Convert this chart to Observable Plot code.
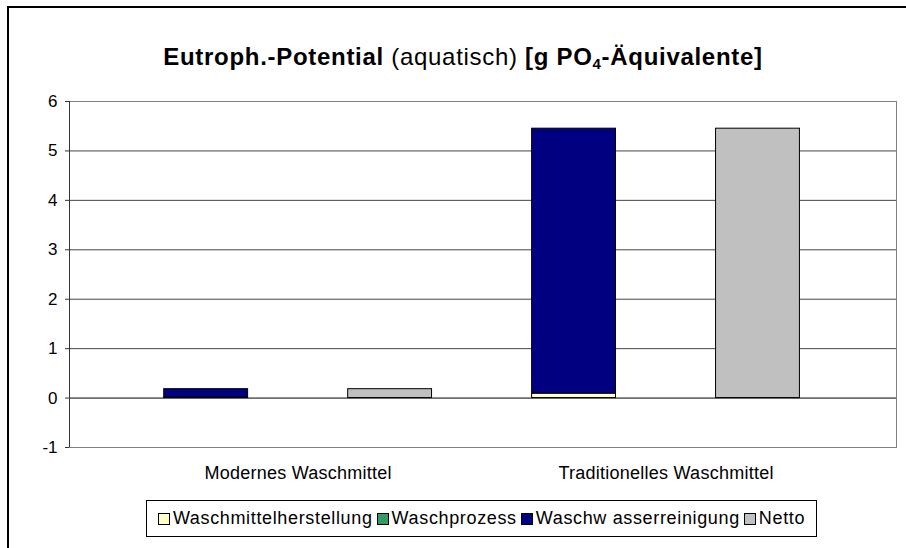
<!DOCTYPE html>
<html>
<head>
<meta charset="utf-8">
<script src="https://cdn.jsdelivr.net/npm/d3@7"></script>
<script src="https://cdn.jsdelivr.net/npm/@observablehq/plot@0.6"></script>
<style>
  html, body { margin: 0; padding: 0; width: 906px; height: 548px; overflow: hidden; background: #fff; }
  body { position: relative; font-family: "Liberation Sans", Arial, sans-serif; }
  #border { position: absolute; left: 7px; top: 6px; width: 1000px; height: 1000px; border: 2px solid #000; box-sizing: border-box; }
  #chart { position: absolute; left: 0; top: 0; }
  #title { position: absolute; left: 0; width: 926px; top: 43px; text-align: center; font-size: 24px; color: #000; white-space: nowrap; letter-spacing: 0.7px; }
  #title b { font-weight: bold; }
  #title sub { font-size: 15px; vertical-align: -4px; line-height: 0; }
  #legend { position: absolute; left: 146px; top: 500px; width: 671px; height: 37px; box-sizing: border-box; border: 1px solid #000; background: #fff;
            display: flex; align-items: center; justify-content: center; font-size: 18px; color: #000; white-space: nowrap; letter-spacing: 0.65px; }
  .item { display: inline-flex; align-items: center; margin: 0 2px; }
  .sw { display: inline-block; width: 10px; height: 10px; border: 1px solid #000; margin-right: 3px; }
  svg g[aria-label="x-axis tick label"] text { letter-spacing: 0.25px; }
</style>
</head>
<body>
<div id="border"></div>
<div id="chart"></div>
<div id="title"><b>Eutroph.-Potential</b> (aquatisch) <b>[g PO<sub>4</sub>-Äquivalente]</b></div>
<div id="legend"></div>
<script>
// ---- data ----
const categories = ["Modernes Waschmittel", "Traditionelles Waschmittel"];
const seriesNames = ["Waschmittelherstellung", "Waschprozess", "Waschw asserreinigung", "Netto"];
const seriesColors = ["#FFFFCC", "#339966", "#000080", "#C0C0C0"];
const herstellung = [0.01, 0.09];
const waschprozess = [0.0, 0.0];
const abwasserreinigung = [0.17, 5.36];
const netto = [0.18, 5.45];
const yTicks = [-1, 0, 1, 2, 3, 4, 5, 6];

// ---- build rows (stack + netto, 4 bar positions) ----
const rows = [];
categories.forEach((c, i) => {
  const parts = [herstellung[i], waschprozess[i], abwasserreinigung[i]];
  let acc = 0;
  parts.forEach((v, k) => {
    rows.push({pos: 2 * i, series: seriesNames[k], y1: acc, y2: acc + v});
    acc += v;
  });
  rows.push({pos: 2 * i + 1, series: seriesNames[3], y1: 0, y2: netto[i]});
});
const half = 0.228;

const plot = Plot.plot({
  width: 906,
  height: 548,
  marginLeft: 69,
  marginRight: 10,
  marginTop: 101,
  marginBottom: 101,
  style: {fontFamily: "'Liberation Sans', Arial, sans-serif", fontSize: "17px", color: "#000", background: "transparent"},
  x: {type: "linear", domain: [-0.743, 3.753]},
  y: {domain: [-1, 6]},
  color: {domain: seriesNames, range: seriesColors},
  marks: [
    Plot.ruleY(yTicks.filter(t => t !== 0 && t !== -1 && t !== 6), {stroke: "#444", strokeWidth: 1}),
    Plot.frame({stroke: "#808080", strokeWidth: 1}),
    Plot.rect(rows.filter(d => d.y2 - d.y1 > 0.001), {
      x1: d => d.pos - half, x2: d => d.pos + half,
      y1: "y1", y2: "y2", fill: "series", stroke: "#000", strokeWidth: 1
    }),
    Plot.ruleY([0], {stroke: "#000", strokeWidth: 1}),
    Plot.ruleX([-0.743], {stroke: "#333", strokeWidth: 1}),
    Plot.axisY({ticks: yTicks, tickSize: 4, tickPadding: 8, fontSize: 17, stroke: "#333", tickFormat: d => String(d)}),
    Plot.axisX({ticks: [0.5, 2.5], tickFormat: t => categories[(t - 0.5) / 2], tickSize: 0, tickPadding: 19, fontSize: 18})
  ]
});
document.getElementById("chart").appendChild(plot);

// ---- legend ----
const legend = document.getElementById("legend");
seriesNames.forEach((s, k) => {
  const it = document.createElement("span");
  it.className = "item";
  const sw = document.createElement("span");
  sw.className = "sw";
  sw.style.background = seriesColors[k];
  it.appendChild(sw);
  it.appendChild(document.createTextNode(s));
  legend.appendChild(it);
});
</script>
</body>
</html>
